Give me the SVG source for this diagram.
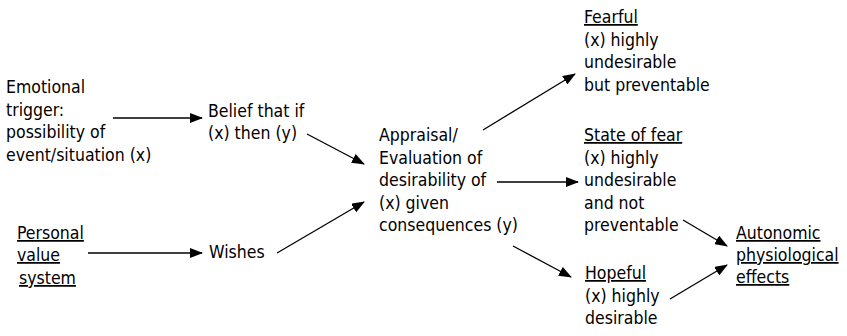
<svg xmlns="http://www.w3.org/2000/svg" width="847" height="336" viewBox="0 0 847 336">
<style>
text{font-family:"DejaVu Sans Condensed","DejaVu Sans",sans-serif;font-stretch:condensed;font-size:17.5px;fill:#000}
.u{text-decoration:underline}
.c{stroke:#000;stroke-width:1.3;fill:none;marker-end:url(#ah)}
</style>
<defs>
<marker id="ah" markerWidth="13" markerHeight="10" refX="12" refY="5" orient="auto" markerUnits="userSpaceOnUse">
<path d="M0,0 L13,5 L0,10 Z" fill="#000"/>
</marker>
</defs>
<rect width="847" height="336" fill="#fff"/>
<g id="trigger">
<text x="6" y="93">Emotional</text>
<text x="6" y="116">trigger:</text>
<text x="6" y="138">possibility of</text>
<text x="6" y="161">event/situation (x)</text>
</g>
<g id="belief">
<text x="208" y="117">Belief that if</text>
<text x="208" y="139">(x) then (y)</text>
</g>
<g id="values">
<text x="17" y="239" class="u">Personal</text>
<text x="17" y="261" class="u">value</text>
<text x="19" y="284" class="u">system</text>
</g>
<g id="wishes">
<text x="209" y="258">Wishes</text>
</g>
<g id="appraisal">
<text x="379" y="141">Appraisal/</text>
<text x="379" y="163.5">Evaluation of</text>
<text x="379" y="186">desirability of</text>
<text x="379" y="208.5">(x) given</text>
<text x="379" y="231">consequences (y)</text>
</g>
<g id="fearful">
<text x="584" y="23" class="u">Fearful</text>
<text x="584" y="45.5">(x) highly</text>
<text x="584" y="68">undesirable</text>
<text x="584" y="90.5">but preventable</text>
</g>
<g id="fear">
<text x="584" y="141" class="u">State of fear</text>
<text x="584" y="163.5">(x) highly</text>
<text x="584" y="186">undesirable</text>
<text x="584" y="208.5">and not</text>
<text x="584" y="231">preventable</text>
</g>
<g id="hopeful">
<text x="585" y="279" class="u">Hopeful</text>
<text x="585" y="301.5">(x) highly</text>
<text x="585" y="324">desirable</text>
</g>
<g id="autonomic">
<text x="736" y="239" class="u">Autonomic</text>
<text x="736" y="261" class="u">physiological</text>
<text x="736" y="283" class="u">effects</text>
</g>
<g id="connectors">
<line class="c" x1="113" y1="118" x2="202" y2="118"/>
<line class="c" x1="307" y1="134" x2="364" y2="164"/>
<line class="c" x1="88" y1="253" x2="202" y2="253"/>
<line class="c" x1="277" y1="253" x2="364" y2="202"/>
<line class="c" x1="483" y1="130" x2="575" y2="74"/>
<line class="c" x1="497" y1="182" x2="578" y2="182"/>
<line class="c" x1="513" y1="246" x2="571" y2="277"/>
<line class="c" x1="683" y1="220" x2="727" y2="246"/>
<line class="c" x1="670" y1="299" x2="727" y2="265"/>
</g>
</svg>
